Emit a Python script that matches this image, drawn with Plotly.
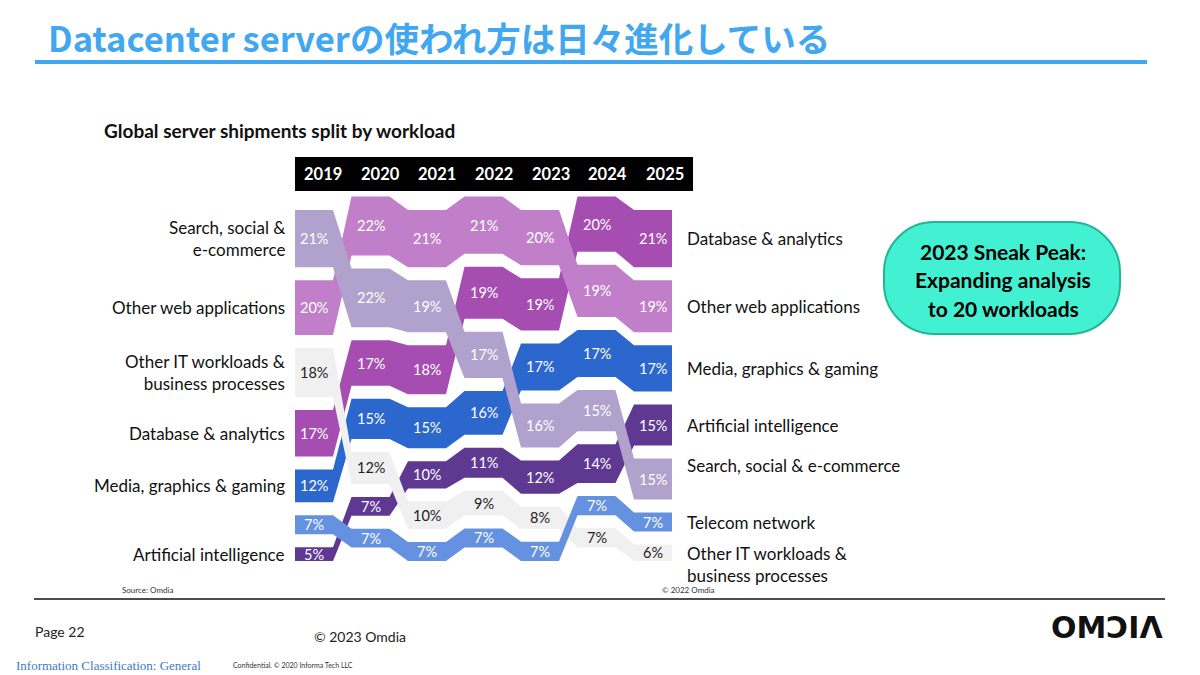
import plotly.graph_objects as go

# ---------------- data ----------------
years = ["2019", "2020", "2021", "2022", "2023", "2024", "2025"]

search_social = [21, 22, 19, 17, 16, 15, 15]
other_web = [20, 22, 21, 21, 20, 19, 19]
other_it = [18, 12, 10, 9, 8, 7, 6]
database = [17, 17, 18, 19, 19, 20, 21]
media = [12, 15, 15, 16, 17, 17, 17]
telecom = [7, 7, 7, 7, 7, 7, 7]
ai = [5, 7, 10, 11, 12, 14, 15]

# rank (1 = top) of each workload in each year
rank_search = [1, 2, 2, 3, 4, 4, 5]
rank_other_web = [2, 1, 1, 1, 1, 2, 2]
rank_other_it = [3, 5, 6, 6, 6, 7, 7]
rank_database = [4, 3, 3, 2, 2, 1, 1]
rank_media = [5, 4, 4, 4, 3, 3, 3]
rank_telecom = [6, 7, 7, 7, 7, 6, 6]
rank_ai = [7, 6, 5, 5, 5, 5, 4]

left_names = {
    "search": "Search, social &<br>e-commerce",
    "other_web": "Other web applications",
    "other_it": "Other IT workloads &<br>business processes",
    "database": "Database & analytics",
    "media": "Media, graphics & gaming",
    "ai": "Artificial intelligence",
}
right_names = {
    "database": "Database & analytics",
    "other_web": "Other web applications",
    "media": "Media, graphics & gaming",
    "ai": "Artificial intelligence",
    "search": "Search, social & e-commerce",
    "telecom": "Telecom network",
    "other_it": "Other IT workloads &<br>business processes",
}

series = {
    "search": (search_social, rank_search),
    "other_web": (other_web, rank_other_web),
    "other_it": (other_it, rank_other_it),
    "database": (database, rank_database),
    "media": (media, rank_media),
    "telecom": (telecom, rank_telecom),
    "ai": (ai, rank_ai),
}

# ---------------- style ----------------
colors = {
    "search": "#b1a1cd",
    "other_web": "#c07fc8",
    "other_it": "#f0f0f0",
    "database": "#a64db1",
    "media": "#2b67cc",
    "telecom": "#6592e0",
    "ai": "#5e3891",
}
text_colors = {k: "white" for k in colors}
text_colors["other_it"] = "#222222"
draw_order = ["database", "other_web", "media", "ai", "other_it", "telecom", "search"]

W, H = 1200, 675
X0, P = 314.0, 56.5      # pixel of first column centre, pixels per column
Y0, S = 210.0, 2.73      # pixel of top of even columns, pixels per % unit
HW = 19.0 / P            # half width of a flat block (column units)
GAP = 13.0 / S           # gap between blocks (% units)
STAGGER = 13.5 / S       # odd columns are lifted

FONT = "Lato"

# ---------------- layout of the blocks ----------------
ncol = len(years)
blocks = {k: [] for k in series}
for c in range(ncol):
    order = sorted(series.keys(), key=lambda k: series[k][1][c])
    total = sum(series[k][0][c] for k in series)
    y = -STAGGER if c % 2 else 0.0
    for k in order:
        h = series[k][0][c] * 100.0 / total
        blocks[k].append((y, y + h))
        y += h + GAP

fig = go.Figure()
annotations = []

for k in draw_order:
    xs, ys = [], []
    for c in range(ncol):
        t, b = blocks[k][c]
        xs += [c - HW, c + HW]
        ys += [t, t]
    for c in reversed(range(ncol)):
        t, b = blocks[k][c]
        xs += [c + HW, c - HW]
        ys += [b, b]
    xs.append(xs[0]); ys.append(ys[0])
    fig.add_trace(go.Scatter(x=xs, y=ys, mode="lines", fill="toself",
                             fillcolor=colors[k], line=dict(width=0, color=colors[k]),
                             hoverinfo="skip", showlegend=False))

for k in series:
    vals = series[k][0]
    for c in range(ncol):
        t, b = blocks[k][c]
        annotations.append(dict(x=c, y=(t + b) / 2, xref="x", yref="y",
                                text=f"{vals[c]}%",
                                font=dict(family=FONT, size=14.5, color=text_colors[k])))

# left labels
for k, name in left_names.items():
    t, b = blocks[k][0]
    annotations.append(dict(x=287 / W, y=(t + b) / 2, xref="paper", yref="y",
                            text=name, xanchor="right", align="right",
                            font=dict(family=FONT, size=17, color="#111111")))
# right labels
right_shift = {"search": 14}
for k, name in right_names.items():
    t, b = blocks[k][-1]
    a = dict(x=685 / W, y=(t + b) / 2, xref="paper", yref="y",
             text=name, xanchor="left", align="left",
             font=dict(family=FONT, size=17, color="#111111"))
    if k == "other_it":
        a.update(yanchor="top", yshift=12)
    else:
        a.update(yshift=right_shift.get(k, 0))
    annotations.append(a)


def px(x):
    return x / W


def py(y):
    return 1 - y / H


shapes = []
# header bar
shapes.append(dict(type="rect", xref="paper", yref="paper", x0=px(295), x1=px(693),
                   y0=py(191), y1=py(157), fillcolor="black", line=dict(width=0)))
col_w = (693 - 295) / ncol
for i, yr in enumerate(years):
    annotations.append(dict(x=px(295 + col_w * (i + 0.5)), y=py(174), xref="paper", yref="paper",
                            text=f"<b>{yr}</b>",
                            font=dict(family=FONT, size=16.5, color="white")))

# title + underline
annotations.append(dict(x=px(46), y=py(37), xref="paper", yref="paper", xanchor="left",
                        text="<b>Datacenter serverの使われ方は日々進化している</b>",
                        font=dict(family="Noto Sans CJK JP", size=34.5, color="#42a7f1")))
shapes.append(dict(type="line", xref="paper", yref="paper", x0=px(35), x1=px(1147),
                   y0=py(62), y1=py(62), line=dict(color="#42a7f1", width=4)))

# subtitle
annotations.append(dict(x=px(102), y=py(130), xref="paper", yref="paper", xanchor="left",
                        text="<b>Global server shipments split by workload</b>",
                        font=dict(family=FONT, size=19, color="#111111")))

# callout pill
bx0, bx1, by0, by1, r = 884, 1120, 222, 334, 50


def pt(x, y):
    return f"{px(x):.5f},{py(y):.5f}"


path = (f"M {pt(bx0 + r, by0)} L {pt(bx1 - r, by0)} "
        f"C {pt(bx1 - r * 0.45, by0)} {pt(bx1, by0 + r * 0.45)} {pt(bx1, by0 + r)} "
        f"L {pt(bx1, by1 - r)} "
        f"C {pt(bx1, by1 - r * 0.45)} {pt(bx1 - r * 0.45, by1)} {pt(bx1 - r, by1)} "
        f"L {pt(bx0 + r, by1)} "
        f"C {pt(bx0 + r * 0.45, by1)} {pt(bx0, by1 - r * 0.45)} {pt(bx0, by1 - r)} "
        f"L {pt(bx0, by0 + r)} "
        f"C {pt(bx0, by0 + r * 0.45)} {pt(bx0 + r * 0.45, by0)} {pt(bx0 + r, by0)} Z")
shapes.append(dict(type="path", xref="paper", yref="paper", path=path,
                   fillcolor="#42f0d2", line=dict(color="#22b595", width=2)))
for txt, yy in [("2023 Sneak Peak:", 251), ("Expanding analysis", 280), ("to 20 workloads", 308)]:
    annotations.append(dict(x=px(1003), y=py(yy), xref="paper", yref="paper",
                            text=f"<b>{txt}</b>",
                            font=dict(family=FONT, size=21, color="#000000")))

# footer
footer = [
    dict(x=px(120), y=py(590), text="Source: Omdia", xanchor="left",
         font=dict(family=FONT, size=8, color="#333333")),
    dict(x=px(660), y=py(590), text="© 2022 Omdia", xanchor="left",
         font=dict(family=FONT, size=8, color="#333333")),
    dict(x=px(33), y=py(631), text="Page 22", xanchor="left",
         font=dict(family=FONT, size=14, color="#222222")),
    dict(x=px(312), y=py(636), text="© 2023 Omdia", xanchor="left",
         font=dict(family=FONT, size=14, color="#222222")),
    dict(x=px(1166), y=py(627), text="<b>OMƆIΛ</b>", xanchor="right",
         font=dict(family="DejaVu Sans", size=30, color="#111111")),
    dict(x=px(14), y=py(665), text="Information Classification: General", xanchor="left",
         font=dict(family="Liberation Serif", size=13, color="#3b7cc4")),
    dict(x=px(231), y=py(665), text="Confidential. © 2020 Informa Tech LLC", xanchor="left",
         font=dict(family=FONT, size=7, color="#333333")),
]
for a in footer:
    a.update(xref="paper", yref="paper")
annotations += footer

for a in annotations:
    a.setdefault("xanchor", "center")
    a.setdefault("yanchor", "middle")
    a["showarrow"] = False

shapes.append(dict(type="line", xref="paper", yref="paper", x0=px(34), x1=px(1165),
                   y0=py(599), y1=py(599), line=dict(color="#111111", width=1.5)))

fig.update_layout(
    width=W, height=H, margin=dict(l=0, r=0, t=0, b=0),
    paper_bgcolor="white", plot_bgcolor="white",
    xaxis=dict(range=[-X0 / P, (W - X0) / P], visible=False, fixedrange=True),
    yaxis=dict(range=[(H - Y0) / S, -Y0 / S], visible=False, fixedrange=True),
    annotations=annotations, shapes=shapes, showlegend=False,
)

fig.write_html("out.html")
